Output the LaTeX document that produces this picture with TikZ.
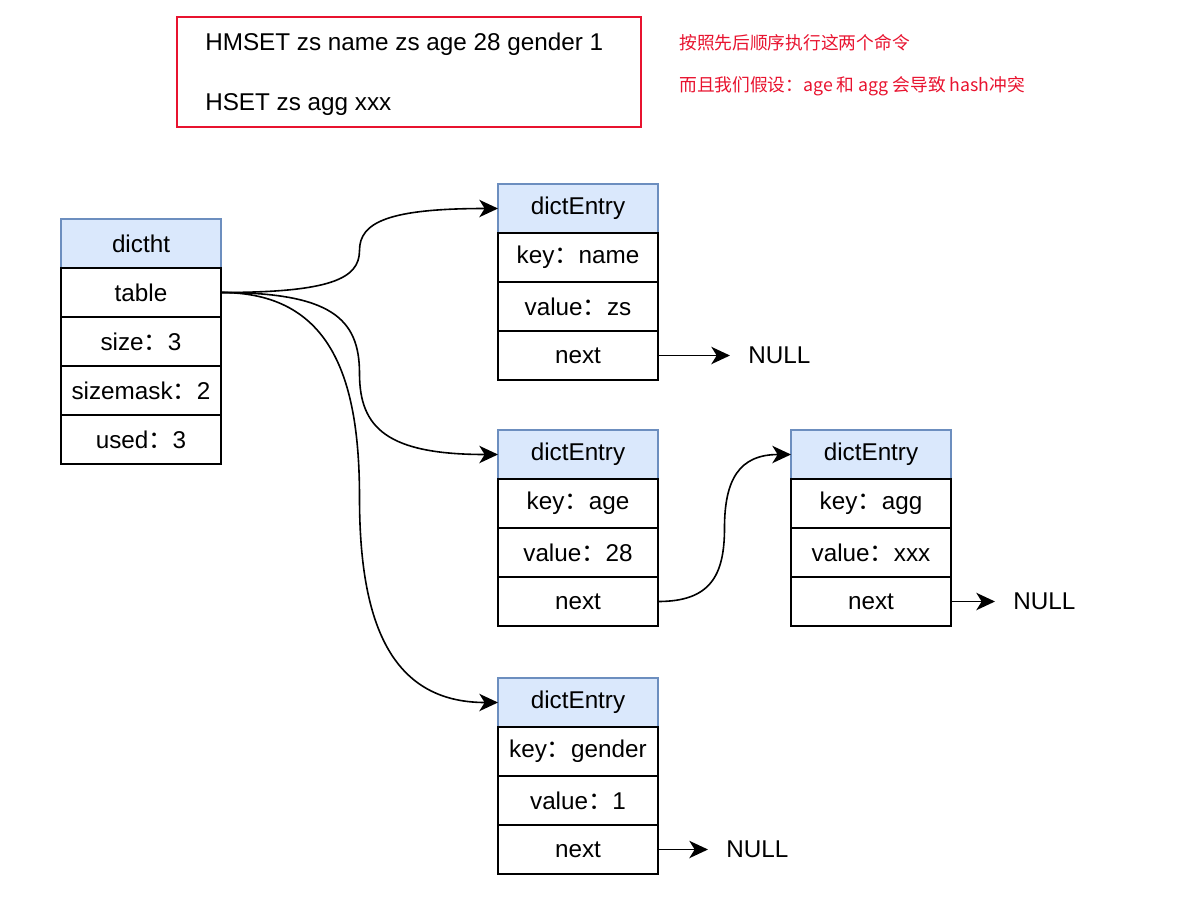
\documentclass[tikz,border=0pt]{standalone}
\usepackage{fontspec}
\setmainfont{Liberation Sans}
\newfontfamily\cjk{Noto Sans CJK SC}
\usetikzlibrary{arrows.meta, positioning, calc}
\definecolor{hdfill}{HTML}{DAE8FC}
\definecolor{hddraw}{HTML}{6C8EBF}
\definecolor{notered}{HTML}{E8132F}
\newcommand{\qcolon}{{\cjk ：}}

\begin{document}
\begin{tikzpicture}[x=0.75pt, y=-0.75pt,
    cell/.style={draw, line width=1.1pt, minimum width=120pt, minimum height=36.75pt,
                 inner sep=0pt, outer sep=0pt, font=\fontsize{18.2}{22}\selectfont},
    head/.style={cell, fill=hdfill, draw=hddraw},
    nulltext/.style={inner sep=0pt, inner xsep=13.5pt, font=\fontsize{18.2}{22}\selectfont},
    cmdtext/.style={anchor=west, inner sep=0pt, font=\fontsize{18.2}{22}\selectfont},
    notetext/.style={anchor=west, inner sep=0pt, text=notered, font=\cjk\fontsize{13.3}{16}\selectfont},
    link/.style={-{Stealth[length=14pt, width=13pt, inset=4pt]}, line width=1.2pt}]
    \useasboundingbox (0,0) rectangle (1193,911);

    % Commands box
    \node[draw=notered, line width=1.4pt, minimum width=348pt, minimum height=82.5pt] (cmds) at (409,72) {};
    \node[cmdtext] (cmd1) at (205,44) {HMSET zs name zs age 28 gender 1};
    \node[cmdtext] (cmd2) at (205,105) {HSET zs agg xxx};

    % Note
    \node[notetext] (note1) at (679,43) {按照先后顺序执行这两个命令};
    \node[notetext] (note2) at (679,86) {而且我们假设：age 和 agg 会导致 hash冲突};

    % dictht
    \node[head] (dh) at (141,243.5) {dictht};
    \node[cell, below=0pt of dh] (table) {table};
    \node[cell, below=0pt of table] (size) {size\qcolon 3};
    \node[cell, below=0pt of size] (mask) {sizemask\qcolon 2};
    \node[cell, below=0pt of mask] (used) {used\qcolon 3};

    % dictEntry name
    \node[head] (e1h) at (578,208.5) {dictEntry};
    \node[cell, below=0pt of e1h] (e1k) {key\qcolon name};
    \node[cell, below=0pt of e1k] (e1v) {value\qcolon zs};
    \node[cell, below=0pt of e1v] (e1n) {next};
    \node[nulltext, right=54pt of e1n] (null1) {NULL};

    % dictEntry age
    \node[head] (e2h) at (578,454.5) {dictEntry};
    \node[cell, below=0pt of e2h] (e2k) {key\qcolon age};
    \node[cell, below=0pt of e2k] (e2v) {value\qcolon 28};
    \node[cell, below=0pt of e2v] (e2n) {next};

    % dictEntry agg (collision)
    \node[head] (e3h) at (871,454.5) {dictEntry};
    \node[cell, below=0pt of e3h] (e3k) {key\qcolon agg};
    \node[cell, below=0pt of e3k] (e3v) {value\qcolon xxx};
    \node[cell, below=0pt of e3v] (e3n) {next};
    \node[nulltext, right=33pt of e3n] (null3) {NULL};

    % dictEntry gender
    \node[head] (e4h) at (578,702.5) {dictEntry};
    \node[cell, below=0pt of e4h] (e4k) {key\qcolon gender};
    \node[cell, below=0pt of e4k] (e4v) {value\qcolon 1};
    \node[cell, below=0pt of e4v] (e4n) {next};
    \node[nulltext, right=37.5pt of e4n] (null4) {NULL};

    % Links: curved, vertical through the midpoint
    \coordinate (m1) at ($(table.east)!0.5!(e1h.west)$);
    \coordinate (m2) at ($(table.east)!0.5!(e2h.west)$);
    \coordinate (m3) at ($(table.east)!0.5!(e4h.west)$);
    \coordinate (m4) at ($(e2n.east)!0.5!(e3h.west)$);
    \draw[link] (table.east) .. controls +(110,0) and +(0,28) .. (m1)
                .. controls +(0,-28) and +(-110,0) .. (e1h.west);
    \draw[link] (table.east) .. controls +(110,0) and +(0,-55) .. (m2)
                .. controls +(0,55) and +(-110,0) .. (e2h.west);
    \draw[link] (table.east) .. controls +(110,0) and +(0,-120) .. (m3)
                .. controls +(0,120) and +(-110,0) .. (e4h.west);
    \draw[link] (e2n.east) .. controls +(52,0) and +(0,48) .. (m4)
                .. controls +(0,-48) and +(-52,0) .. (e3h.west);
    \draw[link] (e1n.east) -- (null1.west);
    \draw[link] (e3n.east) -- (null3.west);
    \draw[link] (e4n.east) -- (null4.west);
\end{tikzpicture}
\end{document}
